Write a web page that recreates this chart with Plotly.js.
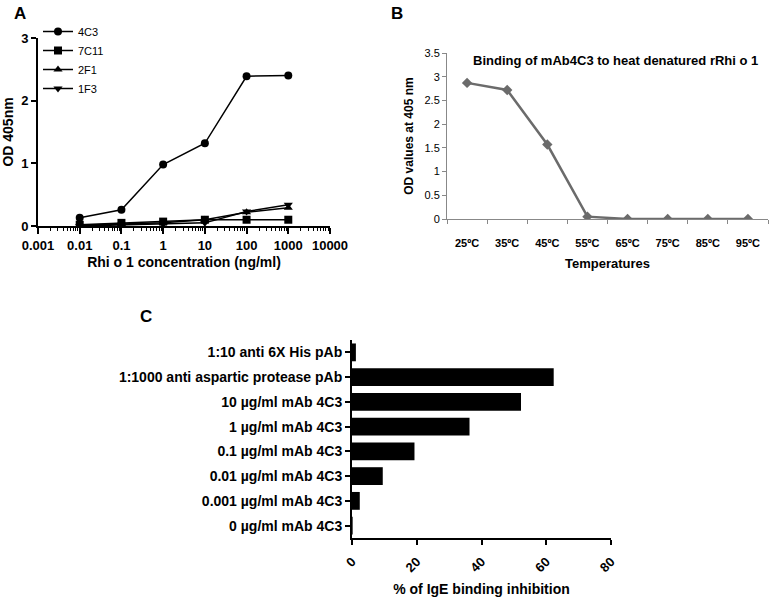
<!DOCTYPE html>
<html>
<head>
<meta charset="utf-8">
<script src="https://cdn.plot.ly/plotly-3.0.1.min.js"></script>
<style>html,body{margin:0;padding:0;background:#fff;}#plot{width:771px;height:601px;}</style>
</head>
<body>
<div id="plot"></div>
<script>
// Panel A data
const concA = [0.01, 0.1, 1, 10, 100, 1000];
const s4C3 = [0.13, 0.26, 0.98, 1.32, 2.39, 2.40];
const s7C11 = [0.02, 0.05, 0.07, 0.10, 0.10, 0.10];
const s2F1 = [0.01, 0.03, 0.05, 0.10, 0.22, 0.29];
const s1F3 = [0.00, 0.02, 0.03, 0.05, 0.23, 0.34];
const tickValsA = [0.001, 0.01, 0.1, 1, 10, 100, 1000, 10000];
const tickTextA = ["0.001", "0.01", "0.1", "1", "10", "100", "1000", "10000"];

// Panel B data
const tempsB = ["25ºC", "35ºC", "45ºC", "55ºC", "65ºC", "75ºC", "85ºC", "95ºC"];
const odB = [2.87, 2.72, 1.57, 0.05, 0.0, 0.0, 0.0, 0.0];

// Panel C data (top to bottom)
const catsC = ["1:10 anti 6X His pAb", "1:1000 anti aspartic protease pAb", "10 µg/ml mAb 4C3", "1 µg/ml mAb 4C3", "0.1 µg/ml mAb 4C3", "0.01 µg/ml mAb 4C3", "0.001 µg/ml mAb 4C3", "0 µg/ml mAb 4C3"];
const inhibC = [1.2, 62.3, 52.2, 36.3, 19.3, 9.5, 2.4, 0.2];

// minor log ticks (2..9 within each decade of the axis)
const minorValsA = [];
tickValsA.slice(0, -1).forEach(d => { for (let k = 2; k <= 9; k++) minorValsA.push(d * k); });

const FONT = "Liberation Sans, Arial, sans-serif";
const W = 771, H = 601;
const px = v => v / W;
const py = v => 1 - v / H;

function lineTrace(name, y, symbol) {
  return {
    type: 'scatter', mode: 'lines+markers', name: name,
    x: concA, y: y, xaxis: 'x', yaxis: 'y',
    line: {color: 'black', width: 1.5},
    marker: {symbol: symbol, size: 8, color: 'black'},
    showlegend: true
  };
}

const data = [
  // invisible helper trace so the minor-tick overlay axis is drawn
  {
    type: 'scatter', mode: 'markers', x: concA, y: s4C3, xaxis: 'x4', yaxis: 'y',
    marker: {opacity: 0, size: 1}, showlegend: false, hoverinfo: 'skip'
  },
  lineTrace('4C3', s4C3, 'circle'),
  lineTrace('7C11', s7C11, 'square'),
  lineTrace('2F1', s2F1, 'triangle-up'),
  lineTrace('1F3', s1F3, 'triangle-down'),
  {
    type: 'scatter', mode: 'lines+markers', x: tempsB, y: odB, xaxis: 'x2', yaxis: 'y2',
    line: {color: '#6b6b6b', width: 2.5},
    marker: {symbol: 'diamond', size: 8, color: '#6b6b6b'},
    showlegend: false
  },
  {
    type: 'bar', orientation: 'h', x: inhibC, y: catsC, xaxis: 'x3', yaxis: 'y3',
    marker: {color: 'black'}, width: 0.72, showlegend: false
  }
];

const layout = {
  width: W, height: H,
  margin: {l: 0, r: 0, t: 0, b: 0},
  paper_bgcolor: 'white', plot_bgcolor: 'white',
  font: {family: FONT, color: 'black'},
  showlegend: true,
  legend: {
    x: px(38), y: py(17), xanchor: 'left', yanchor: 'top',
    font: {size: 11, family: FONT}, bgcolor: 'rgba(0,0,0,0)',
    tracegroupgap: 0, itemwidth: 30
  },
  xaxis: {
    type: 'log', domain: [px(38), px(330)], range: [-3, 4], anchor: 'y',
    tickmode: 'array', tickvals: tickValsA, ticktext: tickTextA,
    ticks: 'outside', ticklen: 6, tickwidth: 2, tickcolor: 'black',
    showline: true, linecolor: 'black', linewidth: 2, showgrid: false, zeroline: false,
    tickfont: {size: 13, weight: 'bold', family: FONT},
    title: {text: 'Rhi o 1 concentration (ng/ml)', font: {size: 14, weight: 'bold', family: FONT}, standoff: 6}
  },
  xaxis4: {
    type: 'log', overlaying: 'x', anchor: 'y', side: 'bottom', range: [-3, 4],
    tickmode: 'array', tickvals: minorValsA, showticklabels: false,
    ticks: 'outside', ticklen: 4, tickwidth: 1, tickcolor: 'black',
    showline: false, showgrid: false, zeroline: false
  },
  yaxis: {
    domain: [py(226), py(38)], range: [0, 3], anchor: 'x',
    tickvals: [0, 1, 2, 3],
    ticks: 'outside', ticklen: 5, tickwidth: 2, tickcolor: 'black',
    showline: true, linecolor: 'black', linewidth: 2, showgrid: false, zeroline: false,
    tickfont: {size: 13, weight: 'bold', family: FONT},
    title: {text: 'OD 405nm', font: {size: 14, weight: 'bold', family: FONT}, standoff: 6}
  },
  xaxis2: {
    type: 'category', domain: [px(447), px(768)], range: [-0.5, 7.5], anchor: 'y2',
    ticks: 'outside', tickson: 'boundaries', ticklen: 4, tickcolor: '#888',
    ticklabelstandoff: 14,
    showline: true, linecolor: '#888', linewidth: 1, showgrid: false, zeroline: false,
    tickfont: {size: 11, weight: 'bold', family: FONT},
    title: {text: 'Temperatures', font: {size: 13, weight: 'bold', family: FONT}, standoff: 10}
  },
  yaxis2: {
    domain: [py(219), py(53)], range: [0, 3.5], anchor: 'x2', dtick: 0.5,
    ticks: 'outside', ticklen: 4, tickcolor: '#888',
    showline: true, linecolor: '#888', linewidth: 1, showgrid: false, zeroline: false,
    tickfont: {size: 11, family: FONT},
    title: {text: 'OD values at 405 nm', font: {size: 12, weight: 'bold', family: FONT}, standoff: 8}
  },
  xaxis3: {
    domain: [px(352), px(611)], range: [0, 80], anchor: 'y3',
    tickvals: [0, 20, 40, 60, 80], tickangle: -45,
    ticks: 'outside', ticklen: 5, tickwidth: 2, tickcolor: 'black',
    ticklabelstandoff: 4,
    showline: true, linecolor: 'black', linewidth: 2, showgrid: false, zeroline: false,
    tickfont: {size: 13, weight: 'bold', family: FONT},
    title: {text: '% of IgE binding inhibition', font: {size: 14, weight: 'bold', family: FONT}, standoff: 10}
  },
  yaxis3: {
    type: 'category', domain: [py(538), py(340)], range: [7.5, -0.5], anchor: 'x3',
    categoryorder: 'array', categoryarray: catsC,
    ticks: 'outside', ticklen: 5, tickwidth: 2, tickcolor: 'black',
    showline: true, linecolor: 'black', linewidth: 2, showgrid: false, zeroline: false,
    tickfont: {size: 14, weight: 'bold', family: FONT}
  },
  annotations: [
    {text: 'A', x: px(20), y: py(2), xref: 'paper', yref: 'paper', xanchor: 'center', yanchor: 'top', showarrow: false, font: {size: 17, weight: 'bold', family: FONT}},
    {text: 'B', x: px(397), y: py(2), xref: 'paper', yref: 'paper', xanchor: 'center', yanchor: 'top', showarrow: false, font: {size: 17, weight: 'bold', family: FONT}},
    {text: 'C', x: px(146), y: py(305), xref: 'paper', yref: 'paper', xanchor: 'center', yanchor: 'top', showarrow: false, font: {size: 17, weight: 'bold', family: FONT}},
    {text: 'Binding of mAb4C3 to heat denatured rRhi o 1', x: px(471), y: py(60), xref: 'paper', yref: 'paper', xanchor: 'left', yanchor: 'middle', showarrow: false, font: {size: 13, weight: 'bold', family: FONT}}
  ]
};

Plotly.newPlot('plot', data, layout, {displayModeBar: false, staticPlot: true});
</script>
</body>
</html>
